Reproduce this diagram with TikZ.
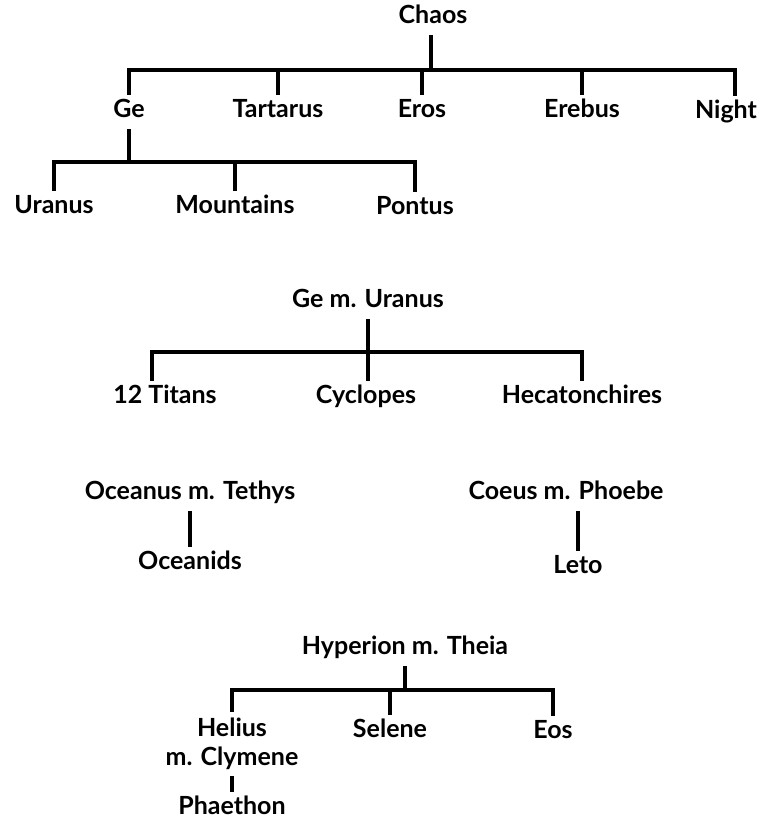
\documentclass[tikz,border=0pt]{standalone}
\usepackage{fontspec}
\setmainfont{Lato}
\usetikzlibrary{positioning}
\tikzset{
  myth/name/.style={
    font=\fontsize{12.5}{14.5}\selectfont\bfseries,
    text=black,
    align=center,
    text height=1.6ex,
    text depth=0.45ex,
    inner xsep=2pt,
    inner ysep=3pt
  },
  myth/line/.style={line width=2pt, draw=black, line join=miter}
}
\begin{document}
\begin{tikzpicture}[x=0.5pt,y=-0.5pt]
  \useasboundingbox (0,0) rectangle (768,827);

  % Chaos and his children
  \node[myth/name] (chaos) at (433,18) {Chaos};
  \node[myth/name] (ge) at (129,112) {Ge};
  \node[myth/name] (tartarus) at (278,112) {Tartarus};
  \node[myth/name] (eros) at (422,112) {Eros};
  \node[myth/name] (erebus) at (582,112) {Erebus};
  \node[myth/name] (night) at (726,113) {Night};
  \coordinate (chaosbar) at (431,70);
  \draw[myth/line] (chaos.south -| chaosbar) -- (chaosbar);
  \draw[myth/line] (ge) -- (ge |- chaosbar) -- ([xshift=4.5]night.north |- chaosbar)
    -- ([xshift=4.5]night.north);
  \draw[myth/line] (tartarus) -- (tartarus |- chaosbar);
  \draw[myth/line] (eros) -- (eros |- chaosbar);
  \draw[myth/line] (erebus) -- (erebus |- chaosbar);

  % children of Ge
  \node[myth/name] (uranus) at (54,208) {Uranus};
  \node[myth/name] (mountains) at (235,208) {Mountains};
  \node[myth/name] (pontus) at (415,209) {Pontus};
  \coordinate (gebar) at (129,162);
  \draw[myth/line] (ge) -- (gebar);
  \draw[myth/line] (uranus) -- (uranus |- gebar) -- (pontus |- gebar) -- (pontus);
  \draw[myth/line] (mountains) -- (mountains |- gebar);

  % Ge m. Uranus
  \node[myth/name] (geuranus) at (368,302) {Ge m. Uranus};
  \node[myth/name] (titans) at (165,398) {12 Titans};
  \node[myth/name] (cyclopes) at (366,398) {Cyclopes};
  \node[myth/name] (hecaton) at (582,398) {Hecatonchires};
  \coordinate (titanbar) at (368,352);
  \draw[myth/line] (geuranus.south -| titanbar) -- (cyclopes.north -| titanbar);
  \draw[myth/line] ([xshift=-6.5]titans.north) -- ([xshift=-6.5]titans.north |- titanbar)
    -- (hecaton |- titanbar) -- (hecaton);

  % Oceanus m. Tethys
  \node[myth/name] (oceanus) at (190,494) {Oceanus m. Tethys};
  \node[myth/name] (oceanids) at (190,564) {Oceanids};
  \draw[myth/line] (oceanus) -- (oceanids);

  % Coeus m. Phoebe
  \node[myth/name] (coeus) at (566,494) {Coeus m. Phoebe};
  \node[myth/name] (leto) at (578,568) {Leto};
  \draw[myth/line] (coeus.south -| leto) -- (leto);

  % Hyperion m. Theia
  \node[myth/name] (hyperion) at (405,649) {Hyperion m. Theia};
  \node[myth/name,text height=,text depth=] (helius) at (232,744) {Helius\\m. Clymene};
  \node[myth/name] (selene) at (390,732) {Selene};
  \node[myth/name] (eos) at (553,733) {Eos};
  \node[myth/name] (phaethon) at (232,809) {Phaethon};
  \coordinate (hypbar) at (405,690);
  \draw[myth/line] (hyperion) -- (hypbar);
  \draw[myth/line] (helius) -- (helius |- hypbar) -- (eos |- hypbar) -- (eos);
  \draw[myth/line] (selene) -- (selene |- hypbar);
  \draw[myth/line] (helius) -- (phaethon);
\end{tikzpicture}
\end{document}
